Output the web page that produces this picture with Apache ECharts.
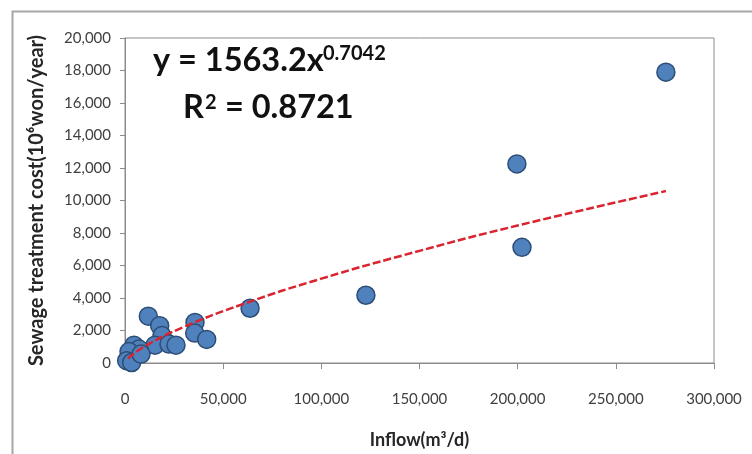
<!DOCTYPE html>
<html>
<head>
<meta charset="utf-8">
<script src="https://cdn.jsdelivr.net/npm/echarts@6/dist/echarts.min.js"></script>
<style>
  html, body { margin: 0; padding: 0; background: #fff; }
  #chart { width: 752px; height: 454px; }
</style>
</head>
<body>
<div id="chart"></div>
<script>
// observed points (inflow m3/d, cost 10^6 won/year)
var inflow = [275500, 199600, 202200, 122700, 63700,
  11870, 17670, 18840, 15280, 22400, 25970, 35650, 35500, 41600,
  4580, 7130, 2040, 850, 3400, 8150];
var cost = [17900, 12250, 7120, 4170, 3370,
  2880, 2300, 1690, 1100, 1165, 1100, 2500, 1840, 1450,
  1100, 860, 705, 140, 30, 550];

// dashed power trendline
var trendInflow = [1500, 10000, 30000, 60000, 100000, 150000, 200000, 275500];
var trendCost = [270, 1025, 2220, 3620, 5190, 6900, 8460, 10580];

var xTicks = [0, 50000, 100000, 150000, 200000, 250000, 300000];
var yTicks = [0, 2000, 4000, 6000, 8000, 10000, 12000, 14000, 16000, 18000, 20000];

var chartDom = document.getElementById('chart');
var myChart = echarts.init(chartDom);

var pts = inflow.map(function (x, i) { return [x, cost[i]]; });
var trend = trendInflow.map(function (x, i) { return [x, trendCost[i]]; });

var labelFont = { color: '#404040', fontFamily: 'Lato', fontSize: 15 };
var big = 'bold 32.5px Lato';
var sup = 'bold 20px Lato';

var option = {
  animation: false,
  backgroundColor: '#fff',
  grid: {
    left: 125, right: 38, top: 38, bottom: 90,
    show: true, borderColor: '#8c8c8c', borderWidth: 1
  },
  xAxis: {
    type: 'value',
    min: xTicks[0], max: xTicks[xTicks.length - 1],
    interval: xTicks[1] - xTicks[0],
    name: 'Inflow(m³/d)',
    nameLocation: 'middle',
    nameGap: 68,
    nameTextStyle: { color: '#262626', fontFamily: 'Lato', fontWeight: 'bold', fontSize: 18 },
    axisLine: { lineStyle: { color: '#8c8c8c' } },
    axisTick: { show: true, length: 6, lineStyle: { color: '#8c8c8c' } },
    splitLine: { show: false },
    axisLabel: Object.assign({ margin: 29, formatter: function (v) { return v.toLocaleString('en-US'); } }, labelFont)
  },
  yAxis: {
    type: 'value',
    min: yTicks[0], max: yTicks[yTicks.length - 1],
    interval: yTicks[1] - yTicks[0],
    name: 'Sewage treatment cost(10⁶won/year)',
    nameLocation: 'middle',
    nameGap: 78,
    nameTextStyle: { color: '#262626', fontFamily: 'Lato', fontWeight: 'bold', fontSize: 20 },
    axisLine: { show: true, lineStyle: { color: '#8c8c8c' } },
    axisTick: { show: true, length: 5, lineStyle: { color: '#8c8c8c' } },
    splitLine: { show: false },
    axisLabel: Object.assign({ margin: 14, formatter: function (v) { return v.toLocaleString('en-US'); } }, labelFont)
  },
  graphic: [
    {
      type: 'rect', left: 10, top: 9, silent: true,
      shape: { width: 760, height: 460 },
      style: { fill: 'none', stroke: '#a6a6a6', lineWidth: 2 }
    },
    { type: 'text', left: 153, top: 44, style: { text: 'y = 1563.2x', fill: '#111', font: big } },
    { type: 'text', left: 323, top: 44, style: { text: '0.7042', fill: '#111', font: sup } },
    { type: 'text', left: 183, top: 91, style: { text: 'R', fill: '#111', font: big } },
    { type: 'text', left: 205, top: 93, style: { text: '2', fill: '#111', font: sup } },
    { type: 'text', left: 225, top: 91, style: { text: '= 0.8721', fill: '#111', font: big } }
  ],
  series: [
    {
      type: 'scatter',
      data: pts,
      symbolSize: 18,
      itemStyle: { color: '#4f81bd', borderColor: '#2c4d75', borderWidth: 1.5, opacity: 1 },
      z: 2
    },
    {
      type: 'line',
      data: trend,
      smooth: true,
      showSymbol: false,
      lineStyle: { color: '#d92430', width: 2.5, type: [8, 3] },
      z: 3
    }
  ]
};

myChart.setOption(option);
window.addEventListener('resize', function () { myChart.resize(); });
</script>
</body>
</html>
